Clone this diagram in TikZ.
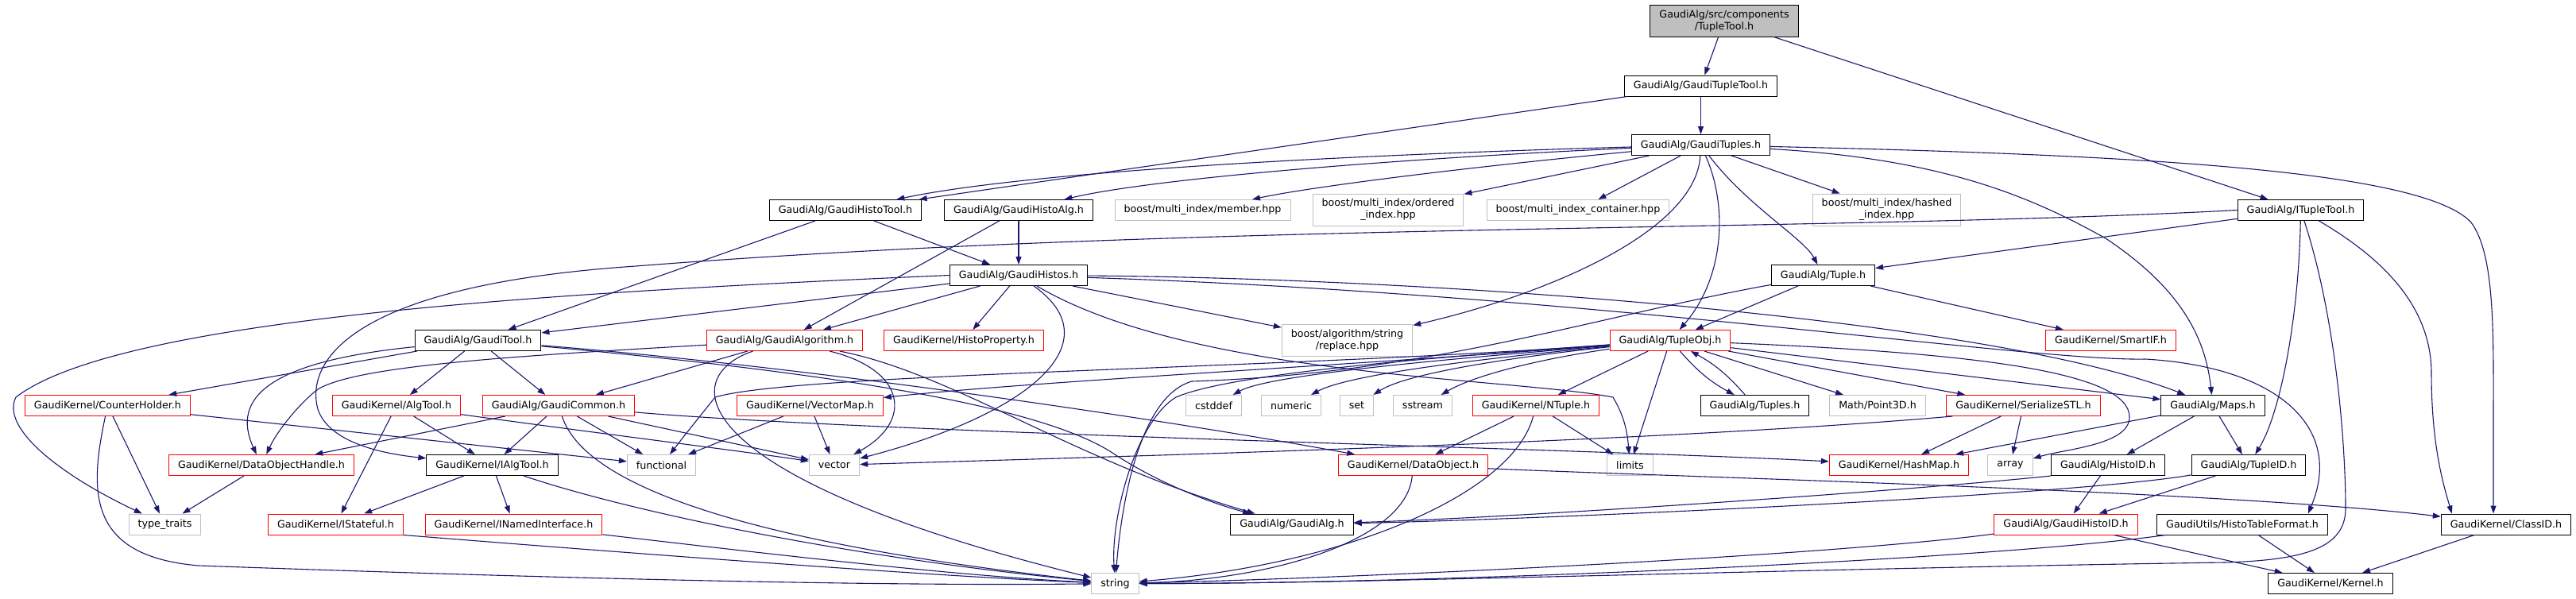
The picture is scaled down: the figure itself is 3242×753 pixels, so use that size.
\documentclass[tikz,border=0pt]{standalone}
\usepackage{fontspec}
\setmainfont{DejaVu Sans}
\usetikzlibrary{arrows.meta}
\definecolor{edgeblue}{HTML}{191970}
\definecolor{boxgray}{HTML}{BFBFBF}
\definecolor{boxred}{HTML}{FF0000}
\begin{document}
\begin{tikzpicture}[x=1pt,y=-1pt,
  every node/.style={font=\fontsize{12.7}{15}\selectfont, inner xsep=11.5pt, inner ysep=0pt,
    minimum height=26pt, line width=1pt, align=center, fill=white},
  bk/.style={draw=black},
  rd/.style={draw=boxred},
  gy/.style={draw=boxgray},
  two/.style={minimum height=40pt},
  edg/.style={draw=edgeblue, line width=1.1pt, -{Triangle[length=10pt,width=7pt]}},
]
\useasboundingbox (0,0) rectangle (3242,753);
% row 0
\node[bk,fill=boxgray,two] (root) at (2170,26) {GaudiAlg/src/components\\/TupleTool.h};
% row 1
\node[bk] (gtt) at (2140.5,108) {GaudiAlg/GaudiTupleTool.h};
% row 2
\node[bk] (gts) at (2140.5,182.5) {GaudiAlg/GaudiTuples.h};
% row 3
\node[bk] (ght) at (1064,264.5) {GaudiAlg/GaudiHistoTool.h};
\node[bk] (gha) at (1282,264.5) {GaudiAlg/GaudiHistoAlg.h};
\node[gy] (mem) at (1513.5,264.5) {boost/multi\_index/member.hpp};
\node[gy,two] (ord) at (1747,264) {boost/multi\_index/ordered\\\_index.hpp};
\node[gy] (cont) at (1986,264.5) {boost/multi\_index\_container.hpp};
\node[gy,two] (hash) at (2374.5,264) {boost/multi\_index/hashed\\\_index.hpp};
\node[bk] (itt) at (2895.5,264.5) {GaudiAlg/ITupleTool.h};
% row 4
\node[bk] (ghs) at (1282,346.5) {GaudiAlg/GaudiHistos.h};
\node[bk] (tup) at (2294.5,346.5) {GaudiAlg/Tuple.h};
% row 5
\node[bk] (gtool) at (601.5,428.5) {GaudiAlg/GaudiTool.h};
\node[rd] (galgo) at (987.5,428.5) {GaudiAlg/GaudiAlgorithm.h};
\node[rd] (hprop) at (1213,428.5) {GaudiKernel/HistoProperty.h};
\node[gy,two] (repl) at (1695.5,428.5) {boost/algorithm/string\\/replace.hpp};
\node[rd] (tobj) at (2102,428.5) {GaudiAlg/TupleObj.h};
\node[rd] (smart) at (2656.5,428.5) {GaudiKernel/SmartIF.h};
% row 6
\node[rd] (ch) at (135.5,510.5) {GaudiKernel/CounterHolder.h};
\node[rd] (atool) at (499,510.5) {GaudiKernel/AlgTool.h};
\node[rd] (gcom) at (703,510.5) {GaudiAlg/GaudiCommon.h};
\node[rd] (vmap) at (1019.5,510.5) {GaudiKernel/VectorMap.h};
\node[gy] (cstd) at (1527.5,510.5) {cstddef};
\node[gy] (num) at (1625,510.5) {numeric};
\node[gy] (set) at (1707.5,510.5) {set};
\node[gy] (sstr) at (1790.5,510.5) {sstream};
\node[rd] (ntup) at (1933,510.5) {GaudiKernel/NTuple.h};
\node[bk] (tups) at (2208.5,510.5) {GaudiAlg/Tuples.h};
\node[gy] (p3d) at (2363,510.5) {Math/Point3D.h};
\node[rd] (ser) at (2546.5,510.5) {GaudiKernel/SerializeSTL.h};
\node[bk] (maps) at (2785,510.5) {GaudiAlg/Maps.h};
% row 7
\node[rd] (doh) at (329,585.5) {GaudiKernel/DataObjectHandle.h};
\node[bk] (iat) at (619.5,585.5) {GaudiKernel/IAlgTool.h};
\node[gy] (func) at (832.5,585.5) {functional};
\node[gy] (vec) at (1050,585.5) {vector};
\node[rd] (dobj) at (1778.5,585.5) {GaudiKernel/DataObject.h};
\node[gy] (lim) at (2051.5,585.5) {limits};
\node[rd] (hmap) at (2390,585.5) {GaudiKernel/HashMap.h};
\node[gy] (arr) at (2530,585.5) {array};
\node[bk] (hid) at (2653,585.5) {GaudiAlg/HistoID.h};
\node[bk] (tid) at (2830,585.5) {GaudiAlg/TupleID.h};
% row 8
\node[gy] (tt) at (207.5,660) {type\_traits};
\node[rd] (ist) at (422.5,660) {GaudiKernel/IStateful.h};
\node[rd] (inm) at (646.5,660) {GaudiKernel/INamedInterface.h};
\node[bk] (galg) at (1626,660) {GaudiAlg/GaudiAlg.h};
\node[rd] (ghid) at (2600,660) {GaudiAlg/GaudiHistoID.h};
\node[bk] (htf) at (2822,660) {GaudiUtils/HistoTableFormat.h};
\node[bk] (cid) at (3154,660) {GaudiKernel/ClassID.h};
% row 9
\node[gy] (str) at (1403.5,734.5) {string};
\node[bk] (kern) at (2933,734.5) {GaudiKernel/Kernel.h};

% ---- edges ----
\draw[edg] (root) -- (gtt);
\draw[edg] (root) -- (itt);
\draw[edg] (gtt) -- (ght);
\draw[edg] (gtt) -- (gts);
\draw[edg] (gts) .. controls (1700,195) and (1300,215) .. (ght);
\draw[edg] (gts) .. controls (1750,200) and (1450,225) .. (gha);
\draw[edg] (gts) .. controls (1850,210) and (1650,235) .. (mem);
\draw[edg] (gts) -- (ord);
\draw[edg] (gts) -- (cont);
\draw[edg] (gts) -- (hash);
\draw[edg] (gts) .. controls (2135,290) and (1950,370) .. (repl);
\draw[edg] (gts) .. controls (2200,260) and (2270,300) .. (tup);
\draw[edg] (gts) .. controls (2175,260) and (2170,350) .. (tobj);
\draw[edg] (gts) .. controls (2450,200) and (2560,250) .. (2650,300) .. controls (2740,360) and (2775,420) .. (maps);
\draw[edg] (gts) .. controls (2700,195) and (3050,215) .. (3110,280) .. controls (3140,320) and (3138,420) .. (3138,520) -- ([xshift=-16pt]cid.north);
\draw[edg] (ght) -- (ghs);
\draw[edg] (ght) -- (gtool);
\draw[edg] (gha) -- (ghs);
\draw[edg] (gha) -- (galgo);
\draw[edg] (ghs) -- (gtool);
\draw[edg] (ghs) -- (galgo);
\draw[edg] (ghs) -- (hprop);
\draw[edg] (ghs) -- (repl);
\draw[edg] (ghs.west) .. controls (700,368) and (150,400) .. (20,500) .. controls (0,540) and (80,600) .. (tt);
\draw[edg] (ghs) .. controls (1400,430) and (1300,520) .. (vec);
\draw[edg] (ghs) .. controls (1500,475) and (1900,475) .. (2030,500) .. controls (2045,525) and (2048,545) .. (lim);
\draw[edg] (ghs) .. controls (1800,350) and (2500,400) .. (maps);
\draw[edg] (ghs) .. controls (2000,370) and (2550,455) .. (2700,452) .. controls (2870,462) and (2950,540) .. ([xshift=-25pt]htf.north east);
\draw[edg] (itt) -- (tup);
\draw[edg] (itt) .. controls (2893,400) and (2870,520) .. (tid);
\draw[edg] (itt) .. controls (2990,320) and (3060,380) .. (3060,470) .. controls (3060,560) and (3075,610) .. ([xshift=14pt]cid.north west);
\draw[edg] (itt.west) .. controls (2300,292) and (1500,280) .. (800,335) .. controls (430,360) and (385,460) .. (400,515) .. controls (415,560) and (490,572) .. (iat);
\draw[edg] (itt) .. controls (2940,400) and (2952,560) .. (2952,640) .. controls (2952,690) and (2900,705) .. (2800,708) .. controls (2300,715) and (1700,735) .. (str);
\draw[edg] (tup) -- (tobj);
\draw[edg] (tup) -- (smart);
\draw[edg] (tup) .. controls (2000,400) and (1800,470) .. (1500,480) .. controls (1430,500) and (1410,650) .. (str);
\draw[edg] (tobj) to[bend right=10] (tups);
\draw[edg] (tups) to[bend right=10] (tobj);
\draw[edg] (tobj) -- (p3d);
\draw[edg] (tobj) -- (ser);
\draw[edg] (tobj) -- (maps);
\draw[edg] (tobj) .. controls (2500,445) and (2680,470) .. (2680,525) .. controls (2680,560) and (2600,565) .. (arr);
\draw[edg] (tobj) .. controls (1850,450) and (1600,470) .. (cstd);
\draw[edg] (tobj) .. controls (1880,450) and (1700,470) .. (num);
\draw[edg] (tobj) .. controls (1900,450) and (1770,470) .. (set);
\draw[edg] (tobj) .. controls (1950,450) and (1860,470) .. (sstr);
\draw[edg] (tobj) -- (ntup);
\draw[edg] (tobj) -- (lim);
\draw[edg] (tobj) .. controls (1800,450) and (1550,470) .. (1480,500) .. controls (1430,530) and (1398,650) .. (str);
\draw[edg] (tobj) .. controls (1700,460) and (1300,480) .. (vmap);
\draw[edg] (tobj) .. controls (1600,465) and (1000,470) .. (900,500) .. controls (880,525) and (860,550) .. (func);
\draw[edg] (ntup) -- (dobj);
\draw[edg] (ntup) -- (lim);
\draw[edg] (ntup) .. controls (1905,620) and (1700,710) .. (str);
\draw[edg] (dobj) .. controls (1770,680) and (1600,730) .. (str);
\draw[edg] (dobj) .. controls (2100,600) and (2800,618) .. (cid);
\draw[edg] ([xshift=8pt]ser.south west) .. controls (2100,555) and (1500,572) .. (vec);
\draw[edg] (ser) -- (hmap);
\draw[edg] (ser) -- (arr);
\draw[edg] (maps) -- (hmap);
\draw[edg] (maps) -- (hid);
\draw[edg] (maps) -- (tid);
\draw[edg] (hid.south west) .. controls (2400,618) and (1900,652) .. (galg);
\draw[edg] (tid) .. controls (2600,625) and (1900,655) .. (galg);
\draw[edg] (hid) -- (ghid);
\draw[edg] (tid) -- (ghid);
\draw[edg] (ghid) .. controls (2300,700) and (1700,728) .. (str);
\draw[edg] (ghid) -- (kern);
\draw[edg] (htf) .. controls (2500,705) and (1800,735) .. (str);
\draw[edg] (htf) -- (kern);
\draw[edg] (cid) -- (kern);
\draw[edg] (gtool) -- (ch);
\draw[edg] (gtool) -- (atool);
\draw[edg] (gtool) -- (gcom);
\draw[edg] (gtool) .. controls (340,455) and (290,500) .. (doh);
\draw[edg] (gtool) .. controls (1000,465) and (1300,505) .. (1400,570) .. controls (1460,610) and (1530,635) .. (galg);
\draw[edg] (gtool) .. controls (1000,460) and (1450,525) .. (dobj);
\draw[edg] (galgo) -- (gcom);
\draw[edg] (galgo) .. controls (650,448) and (450,460) .. (400,490) .. controls (380,505) and (350,540) .. (doh);
\draw[edg] (galgo) .. controls (850,475) and (860,600) .. (str);
\draw[edg] (galgo) .. controls (1140,465) and (1150,530) .. (vec);
\draw[edg] (galgo) .. controls (1200,470) and (1350,580) .. (galg);
\draw[edg] (gcom) -- (doh);
\draw[edg] (gcom) -- (iat);
\draw[edg] (gcom) -- (func);
\draw[edg] (gcom) -- (vec);
\draw[edg] (gcom) .. controls (740,625) and (1000,690) .. (str);
\draw[edg] (gcom) .. controls (1100,545) and (2000,565) .. (hmap);
\draw[edg] (atool) -- (iat);
\draw[edg] (atool) -- (ist);
\draw[edg] (atool) .. controls (750,545) and (950,570) .. (vec);
\draw[edg] (iat) -- (ist);
\draw[edg] (iat) -- (inm);
\draw[edg] (iat) .. controls (780,640) and (1050,700) .. (str);
\draw[edg] (ist.south east) .. controls (800,697) and (1200,727) .. (str);
\draw[edg] (inm) .. controls (950,695) and (1200,725) .. (str);
\draw[edg] (ch) -- (tt);
\draw[edg] (ch) -- (func);
\draw[edg] (ch) .. controls (112,620) and (110,700) .. (250,712) .. controls (700,728) and (1100,738) .. (str);
\draw[edg] (doh) -- (tt);
\draw[edg] (vmap) -- (func);
\draw[edg] (vmap) -- (vec);
\end{tikzpicture}
\end{document}
